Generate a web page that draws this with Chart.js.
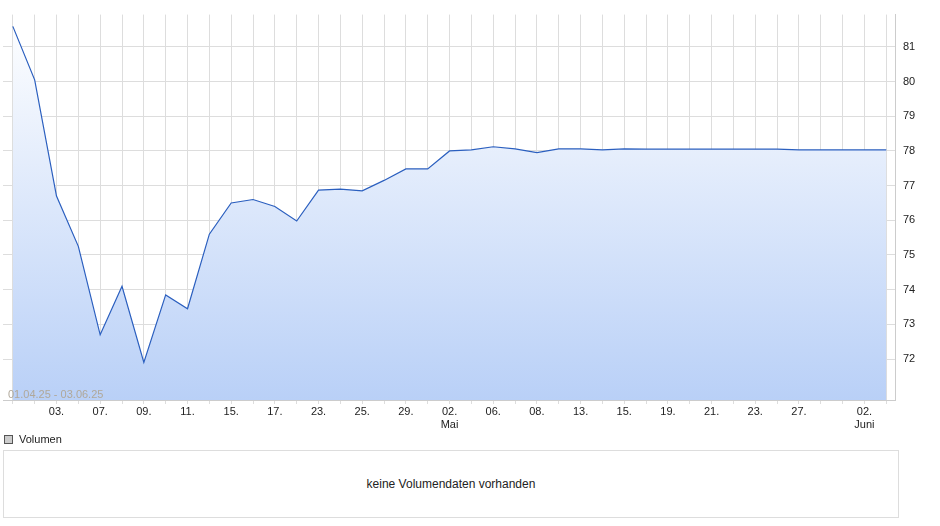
<!DOCTYPE html>
<html>
<head>
<meta charset="utf-8">
<script src="https://cdn.jsdelivr.net/npm/chart.js@4"></script>
<style>
  body { margin: 0; background: #fff; font-family: "Liberation Sans", Arial, sans-serif; }
  #wrap { position: relative; width: 940px; height: 430px; }
  #range { position: absolute; left: 8px; top: 388px; font-size: 11px; color: #b0a89a; }
  #legend { position: absolute; left: 4px; top: 433px; font-size: 11px; color: #222; }
  #legend span { display: inline-block; width: 7px; height: 7px; border: 1px solid #555; background: #ccc; margin-right: 6px; vertical-align: -1px; }
  #vol { position: absolute; left: 3px; top: 450px; width: 894px; height: 66px; border: 1px solid #ddd;
         font-size: 12px; color: #222; text-align: center; line-height: 66px; }
</style>
</head>
<body>
<div id="wrap"><canvas id="c" width="940" height="430"></canvas><div id="range">01.04.25 - 03.06.25</div></div>
<div id="legend"><span></span>Volumen</div>
<div id="vol">keine Volumendaten vorhanden</div>
<script>
// Data
const prices = [81.59, 80.05, 76.7, 75.25, 72.7, 74.1, 71.9, 73.85, 73.45, 75.6,
  76.5, 76.6, 76.4, 75.98, 76.87, 76.9, 76.85, 77.15, 77.48, 77.48,
  78.0, 78.03, 78.12, 78.06, 77.95, 78.06, 78.06, 78.03, 78.06, 78.05,
  78.05, 78.05, 78.05, 78.05, 78.05, 78.05, 78.03, 78.03, 78.03, 78.03, 78.03];
const tickLabels = {2: '03.', 4: '07.', 6: '09.', 8: '11.', 10: '15.', 12: '17.', 14: '23.', 16: '25.',
  18: '29.', 20: ['02.', 'Mai'], 22: '06.', 24: '08.', 26: '13.', 28: '15.', 30: '19.', 32: '21.',
  34: '23.', 36: '27.', 39: ['02.', 'Juni']};
const yTicks = [72, 73, 74, 75, 76, 77, 78, 79, 80, 81];

const points = prices.map((v, i) => ({ x: i, y: v }));

// ARIVA watermark
const watermark = {
  id: 'watermark',
  beforeDatasetsDraw(chart) {
    const ctx = chart.ctx;
    ctx.save();
    ctx.font = 'italic bold 26px "Liberation Sans"';
    ctx.fillStyle = 'rgba(190,200,225,0.4)';
    ctx.textAlign = 'center';
    ctx.fillText('ARIVA.DE', 450, 212);
    ctx.restore();
  }
};

new Chart(document.getElementById('c'), {
  type: 'line',
  data: { datasets: [{
    data: points,
    borderColor: '#2b5fbf',
    borderWidth: 1.2,
    pointRadius: 0,
    tension: 0,
    fill: 'start',
    backgroundColor: (ctx) => {
      const a = ctx.chart.chartArea;
      if (!a) return '#dbe7fb';
      const g = ctx.chart.ctx.createLinearGradient(0, a.top, 0, a.bottom);
      g.addColorStop(0, '#ffffff');
      g.addColorStop(1, '#b9d0f7');
      return g;
    }
  }]},
  options: {
    responsive: false,
    animation: false,
    layout: { padding: { left: 3, top: -7, right: 0, bottom: 0 } },
    plugins: { legend: { display: false }, tooltip: { enabled: false } },
    scales: {
      x: {
        type: 'linear', min: -0.45, max: 40.4,
        afterBuildTicks: (s) => { s.ticks = prices.map((_, i) => ({ value: i })); },
        afterFit: (s) => { s.height = 30; },
        grid: { color: '#dddddd', drawTicks: true, tickLength: 4 },
        border: { color: '#cccccc' },
        ticks: { autoSkip: false, maxRotation: 0, padding: 1, color: '#222',
          font: { family: 'Liberation Sans', size: 11 },
          callback: (v) => tickLabels[v] || '' }
      },
      y: {
        position: 'right', min: 70.82, max: 81.93,
        afterBuildTicks: (s) => { s.ticks = yTicks.map(v => ({ value: v })); },
        afterFit: (s) => { s.width = 45; },
        grid: { color: '#dddddd', drawTicks: false },
        border: { color: '#cccccc' },
        ticks: { padding: 8, color: '#222', font: { family: 'Liberation Sans', size: 11 } }
      }
    }
  },
  plugins: [watermark]
});
</script>
</body>
</html>
